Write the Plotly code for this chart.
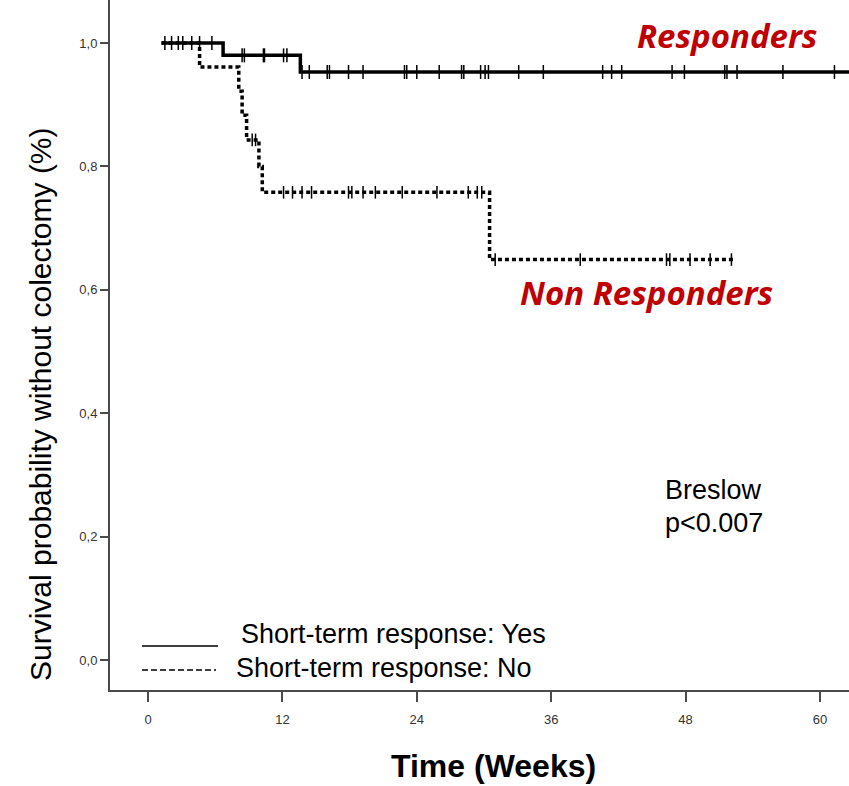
import plotly.graph_objects as go

# Kaplan-Meier estimates: survival without colectomy by short-term response
yes_start_week = 1.2
yes_end_week = 64.0
yes_event_weeks = [6.7, 13.6]
yes_surv_after = [0.980, 0.953]
yes_censored_weeks = [1.5, 2.1, 2.7, 3.1, 3.9, 4.6, 5.7,
                      8.4, 8.6, 10.3, 10.4, 12.1, 12.4,
                      13.75, 14.4, 16.0, 16.2, 17.9, 19.2, 22.9, 23.1, 24.0,
                      26.0, 28.0, 28.2, 29.7, 30.1, 30.4, 33.1, 35.3, 40.6,
                      41.4, 42.3, 46.8, 47.9, 51.5, 51.7, 52.6, 56.7, 61.3]

no_start_week = 1.2
no_end_week = 52.4
no_event_weeks = [4.6, 8.1, 8.4, 8.8, 9.9, 10.2, 30.5]
no_surv_after = [0.961, 0.922, 0.883, 0.843, 0.800, 0.758, 0.649]
no_censored_weeks = [9.3, 9.6, 12.1, 12.9, 13.75, 14.6, 17.9, 18.2, 19.2, 20.3,
                     22.7, 25.8, 28.6, 29.4, 29.8,
                     31.0, 38.6, 46.3, 46.6, 48.4, 50.2, 52.1]

x_tick_vals = [0, 12, 24, 36, 48, 60]
y_tick_vals = [0.0, 0.2, 0.4, 0.6, 0.8, 1.0]
y_tick_text = ["0,0", "0,2", "0,4", "0,6", "0,8", "1,0"]


def step_points(start, end, events, surv):
    xs, ys = [start], [1.0]
    for t, s in zip(events, surv):
        xs.append(t)
        ys.append(s)
    xs.append(end)
    ys.append(surv[-1])
    return xs, ys


def surv_at(t, events, surv):
    s = 1.0
    for e, v in zip(events, surv):
        if t >= e:
            s = v
    return s


fig = go.Figure()

yx, yy = step_points(yes_start_week, yes_end_week, yes_event_weeks, yes_surv_after)
nx, ny = step_points(no_start_week, no_end_week, no_event_weeks, no_surv_after)

fig.add_trace(go.Scatter(x=nx, y=ny, mode="lines", line_shape="hv",
                         line=dict(color="black", width=3.5, dash="4px,3px"),
                         showlegend=False, hoverinfo="skip"))
fig.add_trace(go.Scatter(x=no_censored_weeks,
                         y=[surv_at(t, no_event_weeks, no_surv_after) for t in no_censored_weeks],
                         mode="markers",
                         marker=dict(symbol="line-ns", size=9,
                                     line=dict(color="black", width=1.5)),
                         showlegend=False))
fig.add_trace(go.Scatter(x=yx, y=yy, mode="lines", line_shape="hv",
                         line=dict(color="black", width=3.5),
                         showlegend=False, hoverinfo="skip"))
fig.add_trace(go.Scatter(x=yes_censored_weeks,
                         y=[surv_at(t, yes_event_weeks, yes_surv_after) for t in yes_censored_weeks],
                         mode="markers",
                         marker=dict(symbol="line-ns", size=10,
                                     line=dict(color="black", width=1.5)),
                         showlegend=False))

axis_color = "#4a4a4a"
fig.update_xaxes(range=[-3.4, 62.6], tickvals=x_tick_vals, ticks="outside",
                 ticklen=10, tickwidth=1.5, tickcolor=axis_color,
                 showline=True, linecolor=axis_color, linewidth=2,
                 showgrid=False, zeroline=False, ticklabelstandoff=6,
                 tickfont=dict(family="Liberation Sans Narrow, Liberation Sans", size=13, color="#333"))
fig.update_yaxes(range=[-0.0486, 1.0697], tickvals=y_tick_vals, ticktext=y_tick_text,
                 ticks="outside", ticklen=8, tickwidth=1.5, tickcolor=axis_color,
                 showline=True, linecolor=axis_color, linewidth=2,
                 showgrid=False, zeroline=False,
                 tickfont=dict(family="Liberation Sans", size=13, color="#333"))

legend_font = dict(family="Liberation Sans", size=27, color="black")
fig.add_shape(type="line", xref="paper", yref="paper",
              x0=(142 - 110) / 739, x1=(218 - 110) / 739,
              y0=(690 - 646) / 690, y1=(690 - 646) / 690,
              line=dict(color="black", width=1.5))
fig.add_shape(type="line", xref="paper", yref="paper",
              x0=(142 - 110) / 739, x1=(216 - 110) / 739,
              y0=(690 - 670) / 690, y1=(690 - 670) / 690,
              line=dict(color="black", width=1.5, dash="6px,3px"))

annotations = [
    dict(text="Short-term response: Yes", x=(239 - 110) / 739, y=(690 - 634) / 690,
         xanchor="left", yanchor="middle", font=legend_font),
    dict(text="Short-term response: No", x=(234 - 110) / 739, y=(690 - 668) / 690,
         xanchor="left", yanchor="middle", font=legend_font),
    dict(text="Breslow", x=(663 - 110) / 739, y=(690 - 490) / 690,
         xanchor="left", yanchor="middle", font=legend_font),
    dict(text="p<0.007", x=(663 - 110) / 739, y=(690 - 523) / 690,
         xanchor="left", yanchor="middle", font=legend_font),
    dict(text="<b><i>Responders</i></b>", x=(727 - 110) / 739, y=(690 - 35) / 690,
         xanchor="center", yanchor="middle",
         font=dict(family="Open Sans", size=33, color="#C00000")),
    dict(text="<b><i>Non Responders</i></b>", x=(646 - 110) / 739, y=(690 - 293) / 690,
         xanchor="center", yanchor="middle",
         font=dict(family="Open Sans", size=33, color="#C00000")),
    dict(text="<b>Time (Weeks)</b>", x=(493 - 110) / 739, y=(690 - 766) / 690,
         xanchor="center", yanchor="middle",
         font=dict(family="Liberation Sans", size=32, color="black")),
    dict(text="Survival probability without colectomy (%)", textangle=-90,
         x=(40 - 110) / 739, y=(690 - 404) / 690,
         xanchor="center", yanchor="middle",
         font=dict(family="Liberation Sans", size=30, color="black")),
]
for a in annotations:
    a.update(xref="paper", yref="paper", showarrow=False)
fig.update_layout(annotations=annotations)

fig.update_layout(width=849, height=786,
                  margin=dict(l=110, r=0, t=0, b=96),
                  plot_bgcolor="white", paper_bgcolor="white",
                  showlegend=False)

fig.write_html("out.html")
